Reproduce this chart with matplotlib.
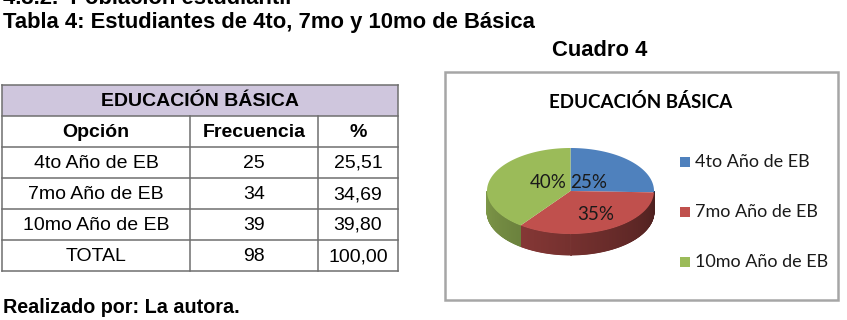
import numpy as np
import matplotlib
matplotlib.use('Agg')
import matplotlib.pyplot as plt
from matplotlib.patches import Rectangle, Polygon
from matplotlib.colors import to_rgb

# datos de la tabla
categorias = ['4to Año de EB', '7mo Año de EB', '10mo Año de EB']
frecuencias = [25, 34, 39]
porcentajes = ['25,51', '34,69', '39,80']
total_frec = 98
total_pct = '100,00'
etiquetas_pie = ['25%', '35%', '40%']
colores = ['#4F81BD', '#C0504D', '#9BBB59']

W, H = 847, 320
fig = plt.figure(figsize=(W / 100, H / 100), dpi=100)
ax = fig.add_axes([0, 0, 1, 1])
ax.set_xlim(0, W)
ax.set_ylim(H, 0)
ax.axis('off')

arial = 'Liberation Sans'
calibri = ['Lato', 'DejaVu Sans']

# textos superiores
ax.text(3, 4, '4.3.2.  Población estudiantil', fontsize=15.8, fontweight='bold',
        family=arial, va='baseline')
ax.text(3, 28, 'Tabla 4: Estudiantes de 4to, 7mo y 10mo de Básica', fontsize=15.8,
        fontweight='bold', family=arial, va='baseline')
ax.text(600, 56, 'Cuadro 4', fontsize=15.8, fontweight='bold', family=arial,
        ha='center', va='baseline')
ax.text(3, 313, 'Realizado por: La autora.', fontsize=14.2, fontweight='bold',
        family=arial, va='baseline')

# ---- tabla ----
cols = [2, 190, 318, 398]
top, rh = 85, 31
filas = [[c, str(f), p] for c, f, p in zip(categorias, frecuencias, porcentajes)]
filas.append(['TOTAL', str(total_frec), total_pct])
n_filas = len(filas) + 2

ax.add_patch(Rectangle((cols[0], top), cols[-1] - cols[0], rh, facecolor='#CFC6DD',
                       edgecolor='none'))
for i in range(n_filas + 1):
    ax.plot([cols[0], cols[-1]], [top + i * rh] * 2, color='#6F6F6F', lw=1.1)
for j, x in enumerate(cols):
    y0 = top if j in (0, len(cols) - 1) else top + rh
    ax.plot([x, x], [y0, top + n_filas * rh], color='#6F6F6F', lw=1.1)

ax.text((cols[0] + cols[-1]) / 2, top + rh / 2 + 1, 'EDUCACIÓN BÁSICA', fontsize=14,
        fontweight='bold', family=arial, ha='center', va='center')
for j, h in enumerate(['Opción', 'Frecuencia', '%']):
    ax.text((cols[j] + cols[j + 1]) / 2, top + 1.5 * rh + 1, h, fontsize=14,
            fontweight='bold', family=arial, ha='center', va='center')
for i, fila in enumerate(filas):
    yc = top + (i + 2.5) * rh + 1
    for j, v in enumerate(fila):
        ax.text((cols[j] + cols[j + 1]) / 2, yc, v, fontsize=14, family=arial,
                ha='center', va='center')

# ---- grafico ----
ax.add_patch(Rectangle((445, 72), 393, 228, facecolor='white', edgecolor='#A6A6A6', lw=1.8))
ax.text(641, 102, 'EDUCACIÓN BÁSICA', fontsize=13.5, fontweight='bold', family=calibri,
        ha='center', va='center')

cx, cy, rx, ry, depth = 570.5, 191, 83.5, 43, 21
vals = np.array([float(p.replace(',', '.')) for p in porcentajes])
fr = vals / vals.sum()
ang = 90 - 360 * np.concatenate([[0], np.cumsum(fr)])  # sentido horario


def pt(t, dy=0):
    r = np.radians(t)
    return cx + rx * np.cos(r), cy - ry * np.sin(r) + dy


# caras laterales (solo parte frontal)
for k in range(len(vals)):
    a1, a0 = ang[k], ang[k + 1]
    base = np.array(to_rgb(colores[k]))
    ts = np.linspace(a0, a1, 200)
    for t0, t1 in zip(ts[:-1], ts[1:]):
        tm = (t0 + t1) / 2 % 360
        if not (180 <= tm <= 360):
            continue
        f = 0.82 - 0.42 * (tm - 180) / 180
        p = [pt(t0), pt(t1), pt(t1, depth), pt(t0, depth)]
        ax.add_patch(Polygon(p, closed=True, facecolor=base * f,
                             edgecolor=base * f, lw=0.6))

# cara superior
for k in range(len(vals)):
    ts = np.linspace(ang[k], ang[k + 1], 200)
    p = [(cx, cy)] + [pt(t) for t in ts]
    ax.add_patch(Polygon(p, closed=True, facecolor=colores[k], edgecolor='none'))

# etiquetas de porcentaje
offs = [(18, -9), (25, 24), (-22, -9)]
for lab, (dx, dy) in zip(etiquetas_pie, offs):
    ax.text(cx + dx, cy + dy, lab, fontsize=13.5, family=calibri, ha='center',
            va='center', color='#1a1a1a')

# leyenda
for k, c in enumerate(categorias):
    yy = 162 + 50 * k
    ax.add_patch(Rectangle((680, yy - 5), 10, 10, facecolor=colores[k], edgecolor='none'))
    ax.text(695, yy, c, fontsize=13, family=calibri, va='center', color='#1a1a1a')

fig.savefig('out.png', dpi=100)
